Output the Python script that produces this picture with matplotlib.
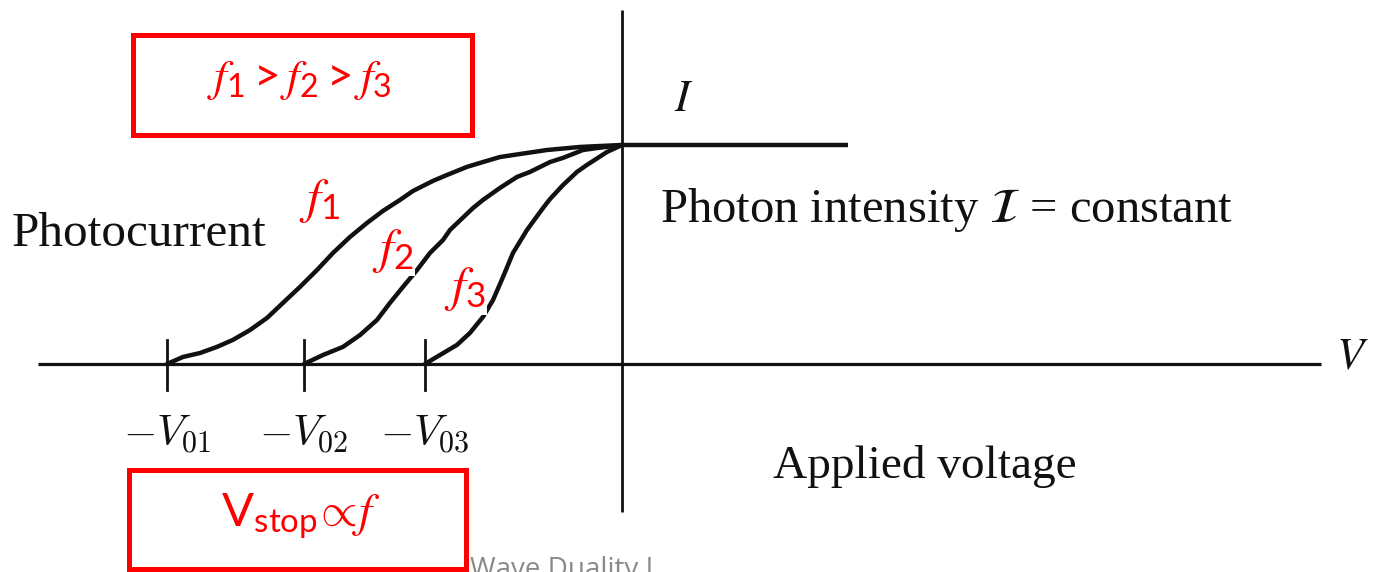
import numpy as np
import matplotlib
matplotlib.use('Agg')
import matplotlib.pyplot as plt
from matplotlib.patches import Rectangle

# Stopping voltages (arbitrary units, origin at V = 0) and their labels
stop_voltages = [-4.55, -3.18, -1.97]
stop_labels = [r'$-V_{01}$', r'$-V_{02}$', r'$-V_{03}$']

# Photocurrent curves (I normalised to saturation)
v_f1 = [-4.55, -4.39, -4.22, -4.05, -3.89, -3.72, -3.55, -3.39, -3.22, -3.05, -2.89, -2.72, -2.55,
        -2.39, -2.22, -2.09, -1.89, -1.75, -1.55, -1.42, -1.22, -1.09, -0.75, -0.42, 0.0]
i_f1 = [0.0, 0.032, 0.050, 0.078, 0.110, 0.155, 0.210, 0.279, 0.352, 0.429, 0.507, 0.580, 0.644,
        0.699, 0.749, 0.790, 0.836, 0.863, 0.900, 0.918, 0.945, 0.954, 0.977, 0.991, 1.0]
v_f2 = [-3.18, -2.99, -2.79, -2.62, -2.45, -2.32, -2.19, -2.05, -1.92, -1.79, -1.72, -1.49, -1.39,
        -1.22, -1.05, -0.92, -0.72, -0.59, -0.39, -0.25, 0.0]
i_f2 = [0.0, 0.041, 0.078, 0.132, 0.201, 0.279, 0.352, 0.429, 0.507, 0.566, 0.612, 0.712, 0.749,
        0.804, 0.854, 0.877, 0.922, 0.941, 0.977, 0.986, 1.0]
v_f3 = [-1.97, -1.82, -1.65, -1.52, -1.39, -1.29, -1.19, -1.09, -0.95, -0.79, -0.72, -0.59, -0.45,
        -0.35, -0.15, 0.0]
i_f3 = [0.0, 0.041, 0.087, 0.142, 0.215, 0.292, 0.397, 0.507, 0.612, 0.712, 0.753, 0.817, 0.877,
        0.909, 0.968, 1.0]

# Saturation plateau for positive voltage
v_sat = [0.0, 2.26]
i_sat = [1.0, 1.0]

curve_labels = [r'$f_{\mathrm{1}}$', r'$f_{\mathrm{2}}$', r'$f_{\mathrm{3}}$']

plt.rcParams['mathtext.rm'] = 'Lato'
plt.rcParams['mathtext.sf'] = 'Lato'
plt.rcParams['mathtext.it'] = 'STIXGeneral:italic'

W, H = 1377, 572
fig = plt.figure(figsize=(W / 100, H / 100), dpi=100)
ax = fig.add_axes([0, 0, 1, 1])
ax.set_xlim(-6.22, 7.55)
ax.set_ylim(-0.950, 1.662)
ax.axis('off')

def fpx(x, y):
    # pixel position -> figure fraction
    return x / W, 1 - y / H

ink = '#111111'
red = '#ff0000'

# axes of the sketch
ax.plot([-5.84, 6.99], [0, 0], color=ink, lw=2.3, solid_capstyle='butt')
ax.plot([0, 0], [1.616, -0.676], color=ink, lw=2.0, solid_capstyle='butt')

# curves
for v, i in [(v_f1, i_f1), (v_f2, i_f2), (v_f3, i_f3)]:
    ax.plot(v, i, color=ink, lw=3.2, solid_joinstyle='round', solid_capstyle='round')
ax.plot(v_sat, i_sat, color=ink, lw=3.2, solid_capstyle='butt')

# ticks at the stopping voltages
for v, lab in zip(stop_voltages, stop_labels):
    ax.plot([v, v], [0.11, -0.12], color=ink, lw=2.0)
    ax.text(v, -0.225, lab, ha='center', va='top', fontsize=31,
            color=ink, math_fontfamily='cm')

serif = 'Liberation Serif'
ax.text(*fpx(12, 246), 'Photocurrent', transform=fig.transFigure, fontsize=35.5,
        family=serif, color=ink, va='baseline')
ax.text(*fpx(674, 111), r'$I$', transform=fig.transFigure, fontsize=32,
        color=ink, va='baseline', math_fontfamily='stix')
ax.text(*fpx(660, 222), r'Photon intensity $\mathcal{I}$ = constant',
        transform=fig.transFigure, fontsize=35, family=serif, color=ink,
        va='baseline', math_fontfamily='stix')
ax.text(*fpx(1336, 369), r'$V$', transform=fig.transFigure, fontsize=32,
        color=ink, va='baseline', math_fontfamily='stix')
ax.text(*fpx(773, 478), 'Applied voltage', transform=fig.transFigure,
        fontsize=34, family=serif, color=ink, va='baseline')

# red frequency labels with white backing
for lab, (x, y) in zip(curve_labels, [(320, 201), (393, 251), (465, 289)]):
    ax.text(*fpx(x, y), lab, transform=fig.transFigure, fontsize=36, color=red,
            ha='center', va='center', math_fontfamily='custom', zorder=5,
            bbox=dict(facecolor='white', edgecolor='none', pad=1.0))

# red boxes
for (x0, y0, x1, y1) in [(133, 35, 472, 135), (129, 470, 466, 569)]:
    fx0, fy1 = fpx(x0, y1)
    fx1, fy0 = fpx(x1, y0)
    fig.patches.append(Rectangle((fx0, fy1), fx1 - fx0, fy0 - fy1,
                                 transform=fig.transFigure, fill=False,
                                 edgecolor=red, lw=3.6))
ax.text(*fpx(299, 80), r'$f_{\mathrm{1}} > f_{\mathrm{2}} > f_{\mathrm{3}}$',
        transform=fig.transFigure, fontsize=33, color=red, ha='center',
        va='center', math_fontfamily='custom')
ax.text(*fpx(301, 516), r'$\mathrm{V}_{\mathrm{stop}}\!\propto\! f$',
        transform=fig.transFigure, fontsize=34, color=red, ha='center',
        va='center', math_fontfamily='custom')

# footer
ax.text(*fpx(470, 577), 'Wave Duality I', transform=fig.transFigure,
        fontsize=20, family='Open Sans', color='#8a8a8a', va='baseline')

fig.savefig('out.png', dpi=100)
